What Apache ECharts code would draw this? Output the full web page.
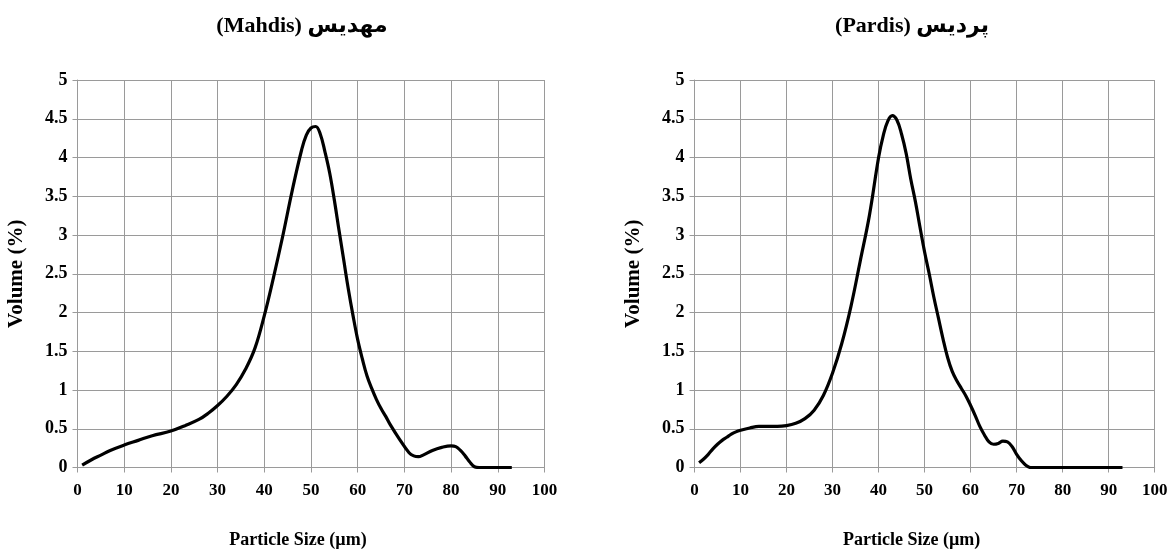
<!DOCTYPE html>
<html>
<head>
<meta charset="utf-8">
<script src="https://cdn.jsdelivr.net/npm/echarts@6/dist/echarts.min.js"></script>
<style>
html,body{margin:0;padding:0;background:#fff;}
#chart{width:1176px;height:558px;}
</style>
</head>
<body>
<div id="chart"></div>
<script>
// Titles and axis names
const titleLeft = "(Mahdis) مهدیس";
const titleRight = "(Pardis) پردیس";
const xAxisName = "Particle Size (µm)";
const yAxisName = "Volume (%)";

// Left sample (Mahdis): particle size (µm) and volume (%)
const mahdisSize = [1,3,5,7,10,13,16,20,23,26,28,30,32,34,36,38,40,42,44,46,48,49,50,51,52,53,54,55,56,57,58,59,60,61,62,63,64,65,66,67,69,71,72,73,74,76,78,80,81,82,83,84,85,86,88,90,93];
const mahdisVolume = [0.03,0.1,0.16,0.22,0.29,0.35,0.41,0.47,0.54,0.62,0.7,0.8,0.92,1.07,1.27,1.54,1.96,2.46,3.0,3.58,4.1,4.29,4.38,4.4,4.3,4.07,3.8,3.45,3.06,2.68,2.3,1.96,1.65,1.4,1.18,1.02,0.88,0.76,0.66,0.55,0.36,0.19,0.15,0.14,0.16,0.22,0.26,0.28,0.27,0.22,0.15,0.07,0.01,0,0,0,0];

// Right sample (Pardis)
const pardisSize = [1,2,3,4,5,6,7,8,9,10,12,14,16,18,20,22,24,26,28,30,32,34,36,38,40,41,42,43,44,45,46,47,48,49,50,51,52,53,54,55,56,57,58,59,60,61,62,63,64,65,66,67,68,69,70,71,72,73,75,80,85,90,93];
const pardisVolume = [0.06,0.11,0.17,0.24,0.3,0.35,0.39,0.43,0.46,0.48,0.51,0.53,0.53,0.53,0.54,0.57,0.63,0.74,0.93,1.22,1.6,2.08,2.66,3.25,4.0,4.28,4.47,4.54,4.48,4.3,4.05,3.72,3.43,3.1,2.78,2.5,2.2,1.93,1.66,1.42,1.24,1.12,1.02,0.92,0.8,0.67,0.53,0.42,0.33,0.3,0.31,0.34,0.33,0.27,0.17,0.09,0.03,0,0,0,0,0,0];

const xTicks = {min:0, max:100, interval:10};
const yTicks = {min:0, max:5, interval:0.5};

const font = "'Liberation Serif', 'Times New Roman', 'DejaVu Sans', serif";
const gridColor = '#9a9a9a';

function pairs(xs, ys){ return xs.map((x,i)=>[x, ys[i]]); }

function xAxis(gridIndex){
  return {
    type:'value', gridIndex, min:xTicks.min, max:xTicks.max, interval:xTicks.interval,
    name:xAxisName, nameLocation:'middle', nameGap:64,
    nameTextStyle:{fontFamily:font, fontWeight:'bold', fontSize:18, color:'#000', padding:[0,26,0,0]},
    axisLine:{show:true, lineStyle:{color:gridColor, width:1}},
    axisTick:{show:true, length:5, lineStyle:{color:gridColor}},
    axisLabel:{fontFamily:font, fontWeight:'bold', fontSize:17, color:'#000', margin:15},
    splitLine:{show:true, lineStyle:{color:gridColor, width:1}}
  };
}
function yAxis(gridIndex){
  return {
    type:'value', gridIndex, min:yTicks.min, max:yTicks.max, interval:yTicks.interval,
    name:yAxisName, nameLocation:'middle', nameGap:50, nameRotate:90,
    nameTextStyle:{fontFamily:font, fontWeight:'bold', fontSize:21, color:'#000'},
    axisLine:{show:true, lineStyle:{color:gridColor, width:1}},
    axisTick:{show:true, length:5, lineStyle:{color:gridColor}},
    axisLabel:{fontFamily:font, fontWeight:'bold', fontSize:18, color:'#000', margin:10},
    splitLine:{show:true, lineStyle:{color:gridColor, width:1}}
  };
}

const chart = echarts.init(document.getElementById('chart'), null, {renderer:'canvas'});
chart.setOption({
  animation:false,
  backgroundColor:'#fff',
  title:[
    {text:titleLeft, left:297, top:10, textAlign:'center',
     textStyle:{fontFamily:font, fontWeight:'bold', fontSize:22, color:'#000'}},
    {text:titleRight, left:907, top:10, textAlign:'center',
     textStyle:{fontFamily:font, fontWeight:'bold', fontSize:22, color:'#000'}}
  ],
  grid:[
    {left:77.5, top:80, width:467, height:387.5, containLabel:false},
    {left:694.5, top:80, width:460.2, height:387.5, containLabel:false}
  ],
  xAxis:[xAxis(0), xAxis(1)],
  yAxis:[yAxis(0), yAxis(1)],
  series:[
    {type:'line', xAxisIndex:0, yAxisIndex:0, data:pairs(mahdisSize, mahdisVolume),
     smooth:0.4, showSymbol:false, lineStyle:{color:'#000', width:3.2}},
    {type:'line', xAxisIndex:1, yAxisIndex:1, data:pairs(pardisSize, pardisVolume),
     smooth:0.4, showSymbol:false, lineStyle:{color:'#000', width:3.2}}
  ]
});
</script>
</body>
</html>
